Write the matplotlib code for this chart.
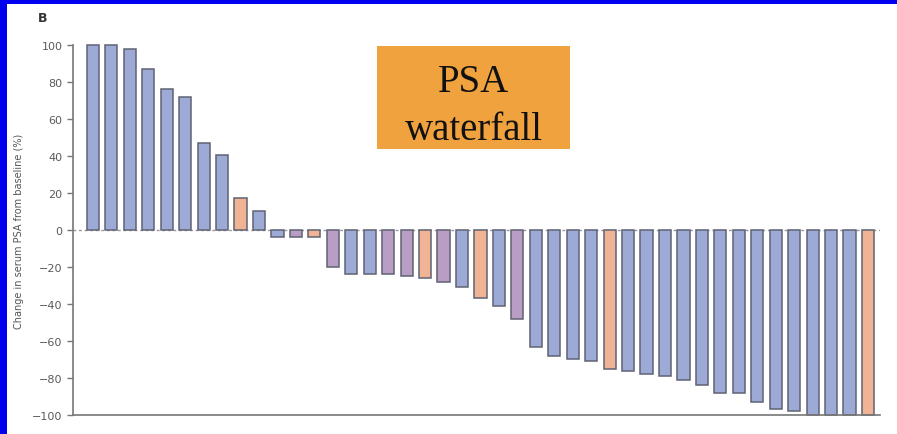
import numpy as np
import matplotlib
matplotlib.use("Agg")
import matplotlib.pyplot as plt
from matplotlib.patches import Rectangle

# PSA change per patient (%), sorted as in the waterfall
psa_change = [100, 100, 98, 87, 76, 72, 47, 40.5, 17.5, 10.5,
              -4, -4, -4, -20, -24, -24, -24, -25, -26, -28,
              -31, -37, -41, -48, -63, -68, -69.5, -71, -75, -76,
              -78, -79, -81, -84, -88, -88, -93, -97, -98, -100,
              -100, -100, -100]
groups = ["b", "b", "b", "b", "b", "b", "b", "b", "o", "b",
          "b", "p", "o", "p", "b", "b", "p", "p", "o", "p",
          "b", "o", "b", "p", "b", "b", "b", "b", "o", "b",
          "b", "b", "b", "b", "b", "b", "b", "b", "b", "b",
          "b", "b", "o"]
group_colors = {"b": "#9eaad6", "p": "#b99dc4", "o": "#f0b495"}
yticks = [100, 80, 60, 40, 20, 0, -20, -40, -60, -80, -100]

fig = plt.figure(figsize=(8.97, 4.35), dpi=100)
ax = fig.add_axes([0.0814, 0.0437, 0.8996, 0.8506])

x = np.arange(len(psa_change))
ax.axhline(0, color="#999999", linestyle=(0, (2, 2)), linewidth=1.0, zorder=1)
ax.bar(x, psa_change, width=0.66, color=[group_colors[g] for g in groups],
       edgecolor="#5e6373", linewidth=1.1, zorder=2, clip_on=False)

ax.set_xlim(-1.08, 42.65)
ax.set_ylim(-100, 100)
ax.set_yticks(yticks)
ax.set_xticks([])
ax.spines["top"].set_visible(False)
ax.spines["right"].set_visible(False)
for s in ["left", "bottom"]:
    ax.spines[s].set_color("#777777")
    ax.spines[s].set_linewidth(1.2)
ax.tick_params(axis="y", colors="#777777", labelcolor="#5a5a5a",
               labelsize=8, length=4, width=1)
ax.set_ylabel("Change in serum PSA from baseline (%)", fontsize=7,
              color="#555555", labelpad=6)

fig.text(0.047, 0.958, "B", fontsize=9, fontweight="bold", color="#333333",
         ha="center", va="center")

# orange annotation box
fig.patches.append(Rectangle((0.420, 0.655), 0.216, 0.237, transform=fig.transFigure,
                             facecolor="#f0a23f", edgecolor="none", zorder=5))
fig.text(0.528, 0.756, "PSA\nwaterfall", fontsize=28, family="Liberation Serif",
         ha="center", va="center", color="#111111", linespacing=1.4, zorder=6)

# blue frame of the screenshot (top and left edges)
fig.patches.append(Rectangle((0, 0.988), 1, 0.012, transform=fig.transFigure,
                             facecolor="#0000ee", edgecolor="none"))
fig.patches.append(Rectangle((0, 0), 0.008, 1, transform=fig.transFigure,
                             facecolor="#0000ee", edgecolor="none"))

fig.savefig("out.png", dpi=100)
